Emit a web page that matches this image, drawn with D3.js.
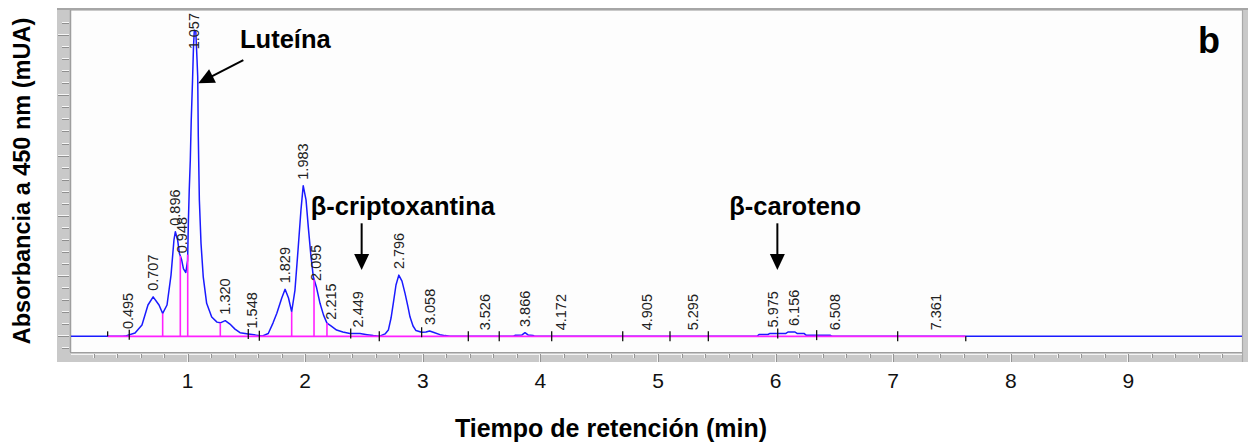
<!DOCTYPE html>
<html>
<head>
<meta charset="utf-8">
<script src="https://cdn.jsdelivr.net/npm/d3@7"></script>
<style>
  body { margin: 0; background: #ffffff; }
  svg { display: block; }
  text { font-family: Arial, "Liberation Sans", sans-serif; }
</style>
</head>
<body>
<svg id="chart" width="1248" height="446"></svg>
<script>
// Detector signal at 450 nm: retention time (min) and absorbance (mAU)
const sigTime = [0.00, 0.45, 0.468, 0.553, 0.612, 0.663, 0.707, 0.757, 0.788, 0.825, 0.859, 0.884, 0.896,
  0.915, 0.930, 0.948, 0.965, 0.985, 1.000, 1.007, 1.014, 1.023, 1.031, 1.042, 1.050, 1.057, 1.070,
  1.080, 1.086, 1.091, 1.100, 1.114, 1.133, 1.162, 1.205, 1.250, 1.278, 1.320, 1.360, 1.403, 1.446,
  1.516, 1.582, 1.633, 1.686, 1.726, 1.758, 1.800, 1.829, 1.858, 1.885, 1.913, 1.939, 1.964, 1.983,
  2.007, 2.026, 2.048, 2.069, 2.095, 2.126, 2.156, 2.185, 2.219, 2.267, 2.320, 2.380, 2.466, 2.526,
  2.579, 2.628, 2.679, 2.707, 2.730, 2.749, 2.772, 2.796, 2.823, 2.849, 2.874, 2.891, 2.917, 2.942,
  2.990, 3.027, 3.058, 3.095, 3.146, 3.189, 3.231, 3.767, 3.784, 3.844, 3.869, 3.895, 3.937, 3.954,
  5.842, 5.859, 5.935, 5.952, 6.088, 6.105, 6.165, 6.182, 6.241, 6.259, 6.463, 6.480, 10.00];
const sigAbs = [0.0, 0.0, 0.1, 1.4, 4.7, 13.0, 16.4, 13.0, 9.5, 13.0, 25.4, 40.0, 43.4,
  40.0, 34.5, 32.0, 28.0, 26.5, 31.5, 48.3, 60.7, 73.2, 89.8, 106.3, 120.0, 127.0, 126.3,
  115.0, 107.7, 82.8, 56.6, 38.6, 24.7, 13.7, 8.0, 5.9, 5.6, 6.5, 5.1, 3.0, 1.5,
  1.0, 0.5, 0.1, 1.2, 5.5, 9.5, 15.8, 19.5, 15.9, 10.2, 19.2, 35.8, 52.4, 62.5,
  56.6, 45.5, 33.7, 24.7, 20.5, 13.7, 8.8, 5.5, 4.3, 2.6, 1.8, 1.2, 1.2, 0.7,
  0.3, 0.0, 1.0, 2.6, 7.6, 13.7, 21.3, 25.4, 22.9, 17.8, 12.2, 8.1, 4.3, 2.4,
  1.7, 1.8, 2.2, 1.6, 0.7, 0.3, 0.0, 0.0, 0.4, 0.6, 1.5, 0.6, 0.4, 0.0,
  0.0, 0.75, 0.75, 1.2, 1.2, 1.8, 1.8, 1.2, 1.2, 0.5, 0.5, 0.0, 0.0];

// Integrated peaks (retention times printed above each peak)
const peakTimes = [0.495, 0.707, 0.896, 0.948, 1.057, 1.320, 1.548, 1.829, 1.983, 2.095, 2.215,
  2.449, 2.796, 3.058, 3.526, 3.866, 4.172, 4.905, 5.295, 5.975, 6.156, 6.508, 7.361];
// Perpendicular drops between unresolved peaks
const dropTimes = [0.788, 0.938, 1.001, 1.278, 1.885, 2.075, 2.185];
// Integration start / stop events
const eventTimes = [0.32, 0.504, 1.516, 1.61, 2.387, 2.63, 2.99, 3.387, 3.65, 4.096, 4.70,
  5.102, 5.428, 6.018, 6.349, 7.038, 7.617];
// Drawn integration baseline (start, end)
const baselineSpan = [0.32, 7.617];

// Axis ticks
const xTickLabels = [1, 2, 3, 4, 5, 6, 7, 8, 9];
const yMinorStep = 5;
const yMajorStep = 25;

// Compound names
const compounds = ["Luteína", "β-criptoxantina", "β-caroteno"];

const svg = d3.select("#chart");
const W = 1248, H = 446;
const inner = { left: 71, top: 11, right: 1242, bottom: 352 };

const x = d3.scaleLinear().domain([0, 10]).range([70, 1246]);
const y = d3.scaleLinear().domain([-6.5, 135]).range([352, 11]);

const bis = d3.bisector(d => d).left;
function signalAt(t) {
  const i = Math.max(1, Math.min(sigTime.length - 1, bis(sigTime, t)));
  const t0 = sigTime[i - 1], t1 = sigTime[i];
  const u = (t - t0) / (t1 - t0);
  return sigAbs[i - 1] + (sigAbs[i] - sigAbs[i - 1]) * u;
}

// ---- frame ----
const frame = svg.append("g");
frame.append("rect").attr("x", 57).attr("y", 8).attr("width", W - 57).attr("height", 354).attr("fill", "#c9c9c9");
frame.append("rect").attr("x", 57).attr("y", 8).attr("width", W - 57).attr("height", 2).attr("fill", "#a6a6a6");
frame.append("rect").attr("x", inner.left).attr("y", inner.top)
  .attr("width", inner.right - inner.left).attr("height", inner.bottom - inner.top).attr("fill", "#fdfdfd");
frame.append("line").attr("x1", 70.5).attr("x2", 70.5).attr("y1", 10).attr("y2", 352).attr("stroke", "#9e9e9e").attr("stroke-width", 1.5);
frame.append("line").attr("x1", 70).attr("x2", 1242).attr("y1", 352.5).attr("y2", 352.5).attr("stroke", "#9e9e9e").attr("stroke-width", 1.2);
frame.append("line").attr("x1", 1242.5).attr("x2", 1242.5).attr("y1", 10).attr("y2", 362).attr("stroke", "#a8a8a8").attr("stroke-width", 1.2);

// y ticks on the left strip
const yTicks = d3.range(-5, 131, yMinorStep);
const yt = frame.append("g");
yTicks.forEach(v => {
  const yy = Math.round(y(v));
  const major = v % yMajorStep === 0;
  const x0 = major ? 58 : 62;
  yt.append("line").attr("x1", x0).attr("x2", 69).attr("y1", yy - 0.5).attr("y2", yy - 0.5).attr("stroke", "#f6f6f6");
  yt.append("line").attr("x1", x0).attr("x2", 69).attr("y1", yy + 0.5).attr("y2", yy + 0.5).attr("stroke", "#8f8f8f");
});

// x ticks on the bottom strip
const xt = frame.append("g");
xt.append("line").attr("x1", inner.left).attr("x2", inner.right).attr("y1", 354.5).attr("y2", 354.5).attr("stroke", "#f4f4f4");
d3.range(1, 50).map(i => i / 5).forEach(t => {
  const xx = Math.round(x(t));
  const major = Math.abs(t - Math.round(t)) < 1e-6;
  const y1 = major ? 362 : 358;
  xt.append("line").attr("x1", xx - 0.5).attr("x2", xx - 0.5).attr("y1", 354).attr("y2", y1).attr("stroke", "#f6f6f6");
  xt.append("line").attr("x1", xx + 0.5).attr("x2", xx + 0.5).attr("y1", 354).attr("y2", y1).attr("stroke", "#949494");
});

// x tick labels
svg.append("g").selectAll("text").data(xTickLabels).join("text")
  .attr("x", d => x(d)).attr("y", 388).attr("text-anchor", "middle")
  .attr("font-size", 21).attr("fill", "#111").text(d => d);

// ---- plot area ----
svg.append("defs").append("clipPath").attr("id", "plotClip")
  .append("rect").attr("x", inner.left).attr("y", inner.top)
  .attr("width", inner.right - inner.left).attr("height", inner.bottom - inner.top);
const plot = svg.append("g").attr("clip-path", "url(#plotClip)");

const line = d3.line().x(i => x(sigTime[i])).y(i => y(sigAbs[i]));
plot.append("path").attr("d", line(d3.range(sigTime.length)))
  .attr("fill", "none").attr("stroke", "#1a1aff").attr("stroke-width", 1.5).attr("stroke-linejoin", "round");

plot.append("line").attr("x1", x(baselineSpan[0])).attr("x2", x(baselineSpan[1]))
  .attr("y1", y(0)).attr("y2", y(0)).attr("stroke", "#ff20ff").attr("stroke-width", 1.6);

plot.selectAll(".drop").data(dropTimes).join("line").attr("class", "drop")
  .attr("x1", d => x(d)).attr("x2", d => x(d))
  .attr("y1", y(0)).attr("y2", d => y(signalAt(d)))
  .attr("stroke", "#ff20ff").attr("stroke-width", 1.6);

plot.selectAll(".evt").data(eventTimes).join("line").attr("class", "evt")
  .attr("x1", d => x(d)).attr("x2", d => x(d))
  .attr("y1", (d, i) => y(signalAt(d)) - (i === eventTimes.length - 1 ? 0 : 5))
  .attr("y2", (d, i) => y(signalAt(d)) + (i === 0 ? 0 : 5))
  .attr("stroke", "#111").attr("stroke-width", 1.3);

// retention time labels
const lab = plot.append("g").attr("font-size", 14.5).attr("fill", "#222");
peakTimes.forEach(t => {
  const txt = lab.append("text").attr("dy", "0.35em").text(t.toFixed(3));
  const len = txt.node().getComputedTextLength();
  const yb = Math.max(y(signalAt(t)) - 6, inner.top + len + 2);
  txt.attr("transform", `translate(${x(t)},${yb}) rotate(-90)`);
});

// ---- compound annotations ----
const ann = svg.append("g");
function arrow(t0, a0, t1, a1) {
  const x0 = x(t0), y0 = y(a0), x1 = x(t1), y1 = y(a1);
  const dx = x1 - x0, dy = y1 - y0, L = Math.hypot(dx, dy);
  const ux = dx / L, uy = dy / L, hl = 16, hw = 7.5;
  const bx = x1 - ux * hl, by = y1 - uy * hl;
  ann.append("line").attr("x1", x0).attr("y1", y0).attr("x2", bx + ux * 2).attr("y2", by + uy * 2)
    .attr("stroke", "#000").attr("stroke-width", 2);
  ann.append("path").attr("d",
    `M${x1},${y1}L${bx - uy * hw},${by + ux * hw}L${bx + uy * hw},${by - ux * hw}Z`).attr("fill", "#000");
}
const noteFont = { size: 25.5, weight: "bold" };
[[compounds[0], 1.446, 119.5], [compounds[1], 2.047, 50.3], [compounds[2], 5.606, 50.3]].forEach(([name, t, a]) => {
  ann.append("text").attr("x", x(t)).attr("y", y(a))
    .attr("font-size", noteFont.size).attr("font-weight", noteFont.weight).attr("fill", "#000").text(name);
});
arrow(1.474, 114.6, 1.091, 105.0);
arrow(2.48, 46.9, 2.48, 27.5);
arrow(6.015, 46.9, 6.015, 27.5);

// panel letter
svg.append("text").attr("x", 1198).attr("y", 53).attr("font-size", 36).attr("font-weight", "bold")
  .attr("fill", "#000").text("b");

// axis titles
svg.append("text").attr("transform", "translate(30,181) rotate(-90)").attr("text-anchor", "middle")
  .attr("font-size", 23.5).attr("font-weight", "bold").attr("fill", "#000").text("Absorbancia a 450 nm (mUA)");
svg.append("text").attr("x", 611).attr("y", 437).attr("text-anchor", "middle")
  .attr("font-size", 25).attr("font-weight", "bold").attr("fill", "#000").text("Tiempo de retención (min)");
</script>
</body>
</html>
